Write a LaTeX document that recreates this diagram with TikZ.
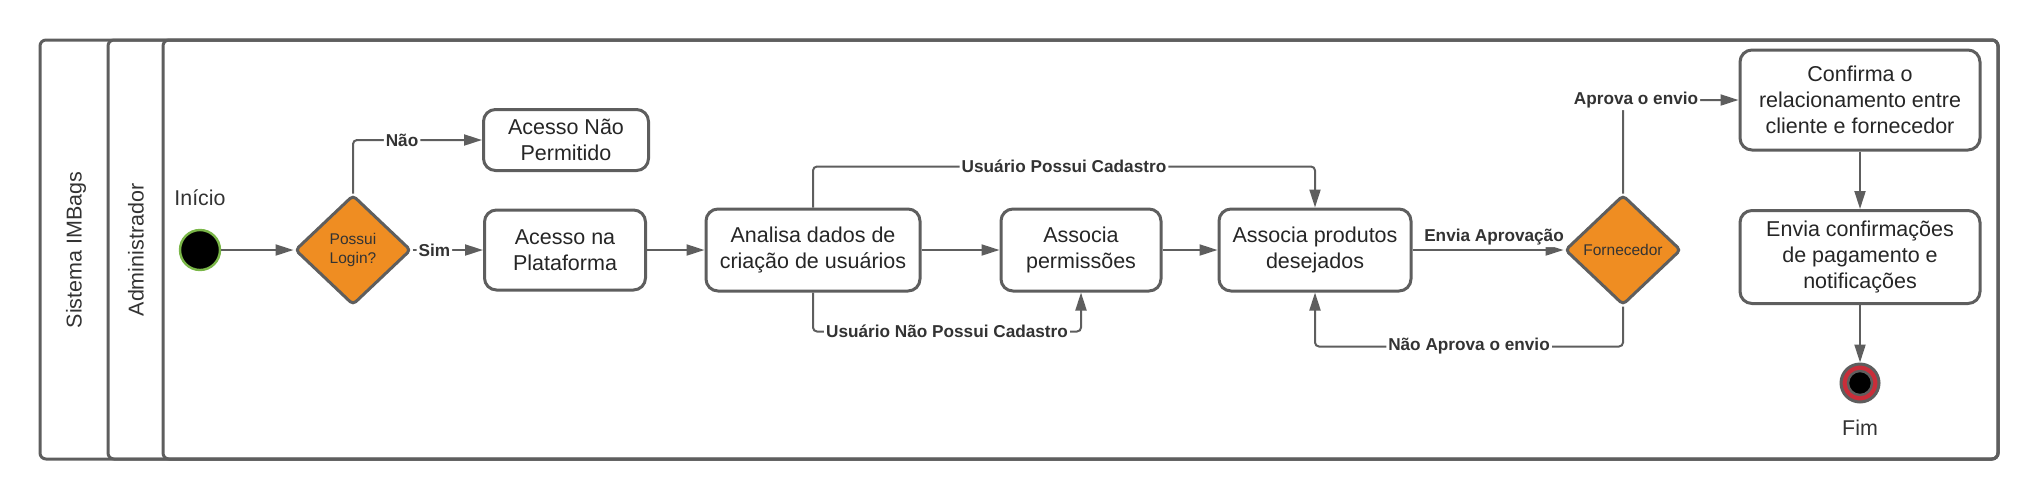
\documentclass[tikz,border=0pt]{standalone}
\usepackage{fontspec}
\setmainfont{Liberation Sans}
\usetikzlibrary{shapes.geometric,arrows.meta}
\definecolor{linegray}{HTML}{5E5E5E}
\definecolor{decisionorange}{HTML}{EF8D22}
\definecolor{startgreen}{HTML}{7AB648}
\definecolor{endred}{HTML}{C92D39}
\definecolor{txt}{HTML}{333333}
\begin{document}
\begin{tikzpicture}[x=0.5pt,y=-0.5pt,
    lane/.style={draw=linegray,line width=1.5pt,rounded corners=3pt},
    lanename/.style={rotate=90,font=\fontsize{10.75}{12.9}\selectfont,text=txt},
    activity/.style={draw=linegray,line width=1.5pt,rounded corners=6pt,fill=white,
      align=center,inner sep=2pt,font=\fontsize{10.75}{12.9}\selectfont,text=black!85},
    decision/.style={diamond,draw=linegray,line width=1.5pt,fill=decisionorange,
      rounded corners=2pt,minimum width=58pt,minimum height=55pt,inner sep=0pt,
      align=center,font=\fontsize{7.75}{9.5}\selectfont,text=txt},
    flow/.style={draw=linegray,line width=1pt,rounded corners=2pt,
      -{Triangle[length=9pt,width=5.5pt]}},
    lbl/.style={font=\fontsize{8.6}{10}\selectfont\bfseries,text=txt,fill=white,inner sep=1pt},
    endlabel/.style={font=\fontsize{10.7}{12}\selectfont,text=txt}]
  \useasboundingbox (0,0) rectangle (2040,500);
  \draw[lane] (40,40) rectangle (1998,459);
  \draw[lane] (108,40) rectangle (1998,459);
  \draw[lane] (163,40) rectangle (1998,459);
  \node[lanename] (sistema) at (76,250) {Sistema IMBags};
  \node[lanename] (admin) at (136,250) {Administrador};

  \node[circle,draw=startgreen,line width=1.2pt,fill=black,minimum size=20pt,inner sep=0pt] (inicio) at (200,250) {};
  \node[endlabel] (iniciolabel) at (200,198) {Início};
  \node[decision] (login) at (353,250) {Possui\\Login?};
  \node[activity,minimum width=82.5pt,minimum height=30.5pt] (nega) at (566,140) {Acesso Não\\Permitido};
  \node[activity,minimum width=80.5pt,minimum height=40pt] (plat) at (565,250) {Acesso na\\Plataforma};
  \node[activity,minimum width=107pt,minimum height=41pt] (analisa) at (813,250) {Analisa dados de\\criação de usuários};
  \node[activity,minimum width=80pt,minimum height=41pt] (perm) at (1081,250) {Associa\\permissões};
  \node[activity,minimum width=96pt,minimum height=41pt] (produtos) at (1315,250) {Associa produtos\\desejados};
  \node[decision] (forn) at (1623,250) {Fornecedor};
  \node[activity,minimum width=120pt,minimum height=50pt] (confirma) at (1860,100) {Confirma o\\relacionamento entre\\cliente e fornecedor};
  \node[activity,minimum width=120pt,minimum height=46.5pt] (notif) at (1860,257) {Envia confirmações\\de pagamento e\\notificações};
  \node[circle,draw=linegray,line width=1.5pt,fill=endred,minimum size=19pt,inner sep=0pt] (fim) at (1860,383) {};
  \node[circle,draw=linegray,line width=1.2pt,fill=black,minimum size=12pt,inner sep=0pt] (fimin) at (fim) {};
  \node[endlabel] (fimlabel) at (1860,428) {Fim};

  \draw[flow] (inicio) -- (login);
  \draw[flow] (login.north) |- node[lbl,pos=0.69] {Não} (nega.west);
  \draw[flow] (login) -- node[lbl,pos=0.31] {Sim} (plat);
  \draw[flow] (plat) -- (analisa);
  \draw[flow] (analisa) -- (perm);
  \draw[flow] (perm) -- (produtos);
  \draw[flow] (analisa.north) -- ++(0,-41) -| node[lbl,pos=0.25] {Usuário Possui Cadastro} (produtos.north);
  \draw[flow] (analisa.south) -- ++(0,39) -| node[lbl,pos=0.25] {Usuário Não Possui Cadastro} (perm.south);
  \draw[flow] (produtos) -- node[lbl,above=1pt,pos=0.54] {Envia Aprovação} (forn);
  \draw[flow] (forn.south) -- ++(0,40) -| node[lbl,pos=0.25] {Não Aprova o envio} (produtos.south);
  \draw[flow] (forn.north) |- node[lbl,pos=0.5,xshift=6.5pt] {Aprova o envio} (confirma.west);
  \draw[flow] (confirma) -- (notif);
  \draw[flow] (notif) -- (fim);
\end{tikzpicture}
\end{document}
